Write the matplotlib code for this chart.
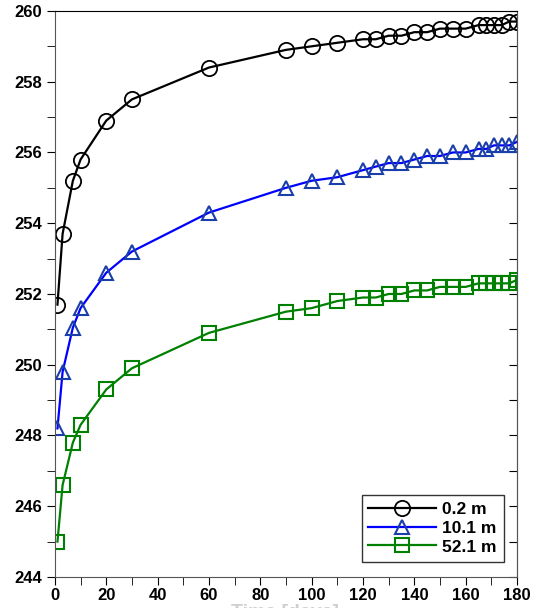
import matplotlib.pyplot as plt
from matplotlib.ticker import MultipleLocator

plt.rcParams['font.family'] = ['Liberation Sans', 'DejaVu Sans']
plt.rcParams['font.weight'] = 'bold'
FONTSIZE = 12

days = [1, 3, 7, 10, 20, 30, 60, 90, 100, 110, 120, 125, 130, 135, 140, 145,
        150, 155, 160, 165, 168, 171, 174, 177, 180]
t_02 = [251.7, 253.7, 255.2, 255.8, 256.9, 257.5, 258.4, 258.9, 259.0, 259.1,
        259.2, 259.2, 259.3, 259.3, 259.4, 259.4, 259.5, 259.5, 259.5, 259.6,
        259.6, 259.6, 259.6, 259.7, 259.7]
t_101 = [248.2, 249.8, 251.05, 251.6, 252.6, 253.2, 254.3, 255.0, 255.2, 255.3,
         255.5, 255.6, 255.7, 255.7, 255.8, 255.9, 255.9, 256.0, 256.0, 256.1,
         256.1, 256.2, 256.2, 256.2, 256.3]
t_521 = [245.0, 246.6, 247.8, 248.3, 249.3, 249.9, 250.9, 251.5, 251.6, 251.8,
         251.9, 251.9, 252.0, 252.0, 252.1, 252.1, 252.2, 252.2, 252.2, 252.3,
         252.3, 252.3, 252.3, 252.3, 252.4]
labels = ['0.2 m', '10.1 m', '52.1 m']

fig = plt.figure(figsize=(5.33, 6.08), dpi=100)
ax = fig.add_axes([0.103, 0.051, 0.867, 0.931])

ax.plot(days, t_02, color='black', lw=1.6, marker='o', ms=11, mfc='none',
        mec='black', mew=1.3, label=labels[0])
ax.plot(days, t_101, color='#0000ff', lw=1.6, marker='^', ms=10, mfc='none',
        mec='#1a3fa8', mew=1.5, label=labels[1])
ax.plot(days, t_521, color='#008000', lw=1.6, marker='s', ms=10, mfc='none',
        mec='#008000', mew=1.5, label=labels[2])

ax.set_xlim(0, 180)
ax.set_ylim(244, 260)
ax.xaxis.set_major_locator(MultipleLocator(20))
ax.xaxis.set_minor_locator(MultipleLocator(10))
ax.yaxis.set_major_locator(MultipleLocator(2))
ax.yaxis.set_minor_locator(MultipleLocator(1))
ax.tick_params(axis='both', which='both', direction='out', length=6,
               labelsize=FONTSIZE, top=False, right=False)
ax.tick_params(axis='x', which='major', pad=2)
for lab in ax.get_xticklabels() + ax.get_yticklabels():
    lab.set_fontweight('bold')

# inward ticks on the right spine at every degree
rax = ax.secondary_yaxis('right')
rax.yaxis.set_major_locator(MultipleLocator(1))
rax.tick_params(direction='in', length=6, labelright=False)

for s in ['left', 'bottom', 'right']:
    ax.spines[s].set_color('#555555')
rax.spines['right'].set_color('#555555')
ax.spines['top'].set_color('black')

# axis title sits low, running off the bottom edge of the figure
fig.text(0.535, 0.007, 'Time [days]', ha='center', va='top', fontsize=14,
         fontweight='bold', color='#cfcfcf')

leg = ax.legend(loc='lower right', bbox_to_anchor=(0.99, 0.012), fontsize=12.5,
                frameon=True, fancybox=False, edgecolor='black',
                borderpad=0.4, handlelength=3.9, labelspacing=0.22,
                handletextpad=0.35)
leg.get_frame().set_linewidth(1.0)
for txt in leg.get_texts():
    txt.set_fontweight('bold')

fig.savefig('out.png', dpi=100)
